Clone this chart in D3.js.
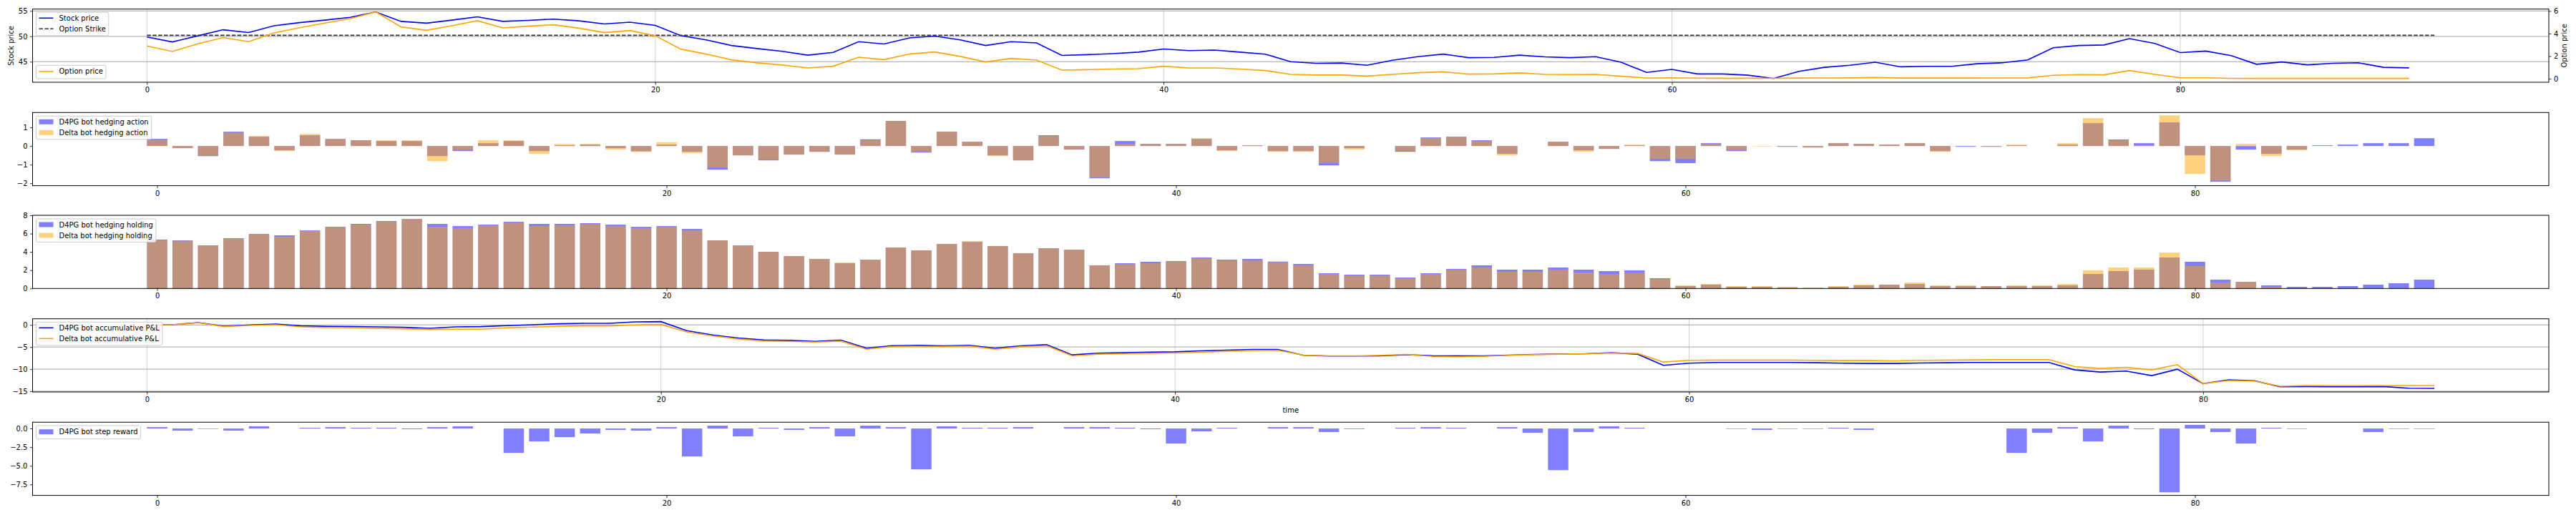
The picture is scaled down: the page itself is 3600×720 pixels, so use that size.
<!DOCTYPE html>
<html><head><meta charset="utf-8">
<script src="https://cdn.jsdelivr.net/npm/d3@7"></script>
<style>
html,body{margin:0;padding:0;background:#fff;}
svg{display:block;}
text{font-family:"DejaVu Sans",sans-serif;}
</style></head><body>
<svg id="chart" width="3600" height="720"></svg>
<script>
// ---------------- DATA ----------------
const timeSteps = d3.range(90);
const strikeTimes = [0, 90];
const strikeValues = [50.2, 50.2];

const stockPrice = [49.86, 48.9, 50.1, 51.3, 50.75, 52.1, 52.7, 53.2, 53.75, 54.8,
 52.95, 52.6, 53.2, 53.85, 52.95, 53.15, 53.4, 53.05, 52.45, 52.8,
 52.15, 50.15, 49.3, 48.2, 47.6, 47.05, 46.3, 46.85, 48.95, 48.5,
 49.7, 50.05, 49.3, 48.2, 48.95, 48.7, 46.25, 46.4, 46.6, 46.9,
 47.5, 47.2, 47.3, 46.9, 46.5, 45.0, 44.7, 44.75, 44.3, 45.3,
 46.0, 46.5, 45.8, 45.85, 46.3, 45.95, 45.8, 46.0, 44.9, 42.9,
 43.5, 42.6, 42.6, 42.35, 41.7, 43.1, 43.9, 44.3, 44.9, 44.0,
 44.1, 44.1, 44.6, 44.8, 45.35, 47.75, 48.2, 48.3, 49.55, 48.6,
 46.8, 47.1, 46.2, 44.5, 44.95, 44.4, 44.7, 44.8, 43.9, 43.8];

const optionPrice = [2.90, 2.41, 3.09, 3.64, 3.28, 4.06, 4.52, 4.93, 5.33, 5.92,
 4.59, 4.29, 4.69, 5.14, 4.50, 4.65, 4.78, 4.48, 4.08, 4.27,
 3.81, 2.62, 2.18, 1.67, 1.40, 1.21, 0.95, 1.10, 1.90, 1.69,
 2.18, 2.37, 1.97, 1.48, 1.80, 1.65, 0.76, 0.80, 0.85, 0.89,
 1.10, 0.95, 0.95, 0.85, 0.72, 0.38, 0.32, 0.32, 0.23, 0.38,
 0.53, 0.61, 0.40, 0.42, 0.51, 0.38, 0.36, 0.38, 0.21, 0.06,
 0.08, 0.04, 0.04, 0.04, 0.03, 0.05, 0.06, 0.07, 0.10, 0.05,
 0.05, 0.05, 0.05, 0.06, 0.07, 0.30, 0.36, 0.34, 0.72, 0.38,
 0.08, 0.08, 0.03, 0.02, 0.02, 0.02, 0.02, 0.02, 0.02, 0.02];

const d4pgAction = [0.385, -0.11, -0.54, 0.77, 0.50, -0.23, 0.58, 0.385, 0.31, 0.27,
 0.27, -0.54, -0.27, 0.155, 0.27, -0.27, 0.04, 0.077, -0.115, -0.28,
 0.077, -0.31, -1.27, -0.50, -0.77, -0.46, -0.31, -0.46, 0.36, 1.35,
 -0.35, 0.77, 0.23, -0.50, -0.77, 0.58, -0.19, -1.73, 0.27, 0.115,
 0.115, 0.385, -0.23, 0.04, -0.27, -0.27, -1.04, -0.115, 0, -0.31,
 0.46, 0.50, 0.31, -0.42, 0, 0.23, -0.23, -0.154, 0.04, -0.81,
 -0.92, 0.154, -0.27, 0, -0.04, -0.077, 0.154, 0.115, 0.077, 0.154,
 -0.27, -0.04, -0.04, 0.04, 0, 0.077, 1.23, 0.35, 0.154, 1.27,
 -0.50, -1.92, -0.19, -0.42, -0.19, 0.04, 0.077, 0.154, 0.154, 0.42];

const deltaAction = [0.32, -0.12, -0.50, 0.72, 0.54, -0.27, 0.65, 0.385, 0.31, 0.31,
 0.31, -0.81, -0.205, 0.31, 0.31, -0.42, 0.115, 0.115, -0.19, -0.32,
 0.205, -0.385, -1.15, -0.50, -0.73, -0.46, -0.31, -0.46, 0.32, 1.35,
 -0.31, 0.77, 0.23, -0.54, -0.77, 0.54, -0.19, -1.68, 0.115, 0.115,
 0.115, 0.42, -0.27, 0.04, -0.31, -0.31, -0.92, -0.19, 0, -0.27,
 0.42, 0.46, 0.27, -0.50, 0, 0.23, -0.31, -0.154, 0.077, -0.69,
 -0.69, 0.115, -0.23, -0.025, -0.04, -0.077, 0.154, 0.115, 0.077, 0.154,
 -0.31, 0, -0.04, 0.077, 0, 0.154, 1.50, 0.31, 0.04, 1.65,
 -1.50, -1.85, 0.115, -0.54, -0.23, 0, 0, 0, 0, 0];

const d4pgHolding = [5.34, 5.26, 4.71, 5.49, 5.96, 5.81, 6.35, 6.74, 7.06, 7.37,
 7.60, 7.06, 6.82, 6.98, 7.29, 7.06, 7.06, 7.14, 6.98, 6.74,
 6.82, 6.51, 5.26, 4.71, 4.01, 3.54, 3.23, 2.76, 3.15, 4.48,
 4.17, 4.87, 5.10, 4.64, 3.85, 4.40, 4.24, 2.53, 2.76, 2.92,
 2.99, 3.39, 3.15, 3.23, 2.94, 2.68, 1.67, 1.51, 1.51, 1.20,
 1.67, 2.14, 2.53, 2.06, 2.06, 2.29, 2.06, 1.90, 1.98, 1.12,
 0.26, 0.42, 0.18, 0.18, 0.10, 0.05, 0.18, 0.34, 0.42, 0.49,
 0.26, 0.26, 0.26, 0.26, 0.26, 0.34, 1.59, 1.90, 2.06, 3.39,
 2.92, 0.96, 0.73, 0.34, 0.18, 0.18, 0.26, 0.42, 0.57, 0.96];

const deltaHolding = [5.26, 5.21, 4.64, 5.42, 5.89, 5.68, 6.30, 6.67, 6.98, 7.29,
 7.60, 6.74, 6.59, 6.90, 7.21, 6.82, 6.90, 7.06, 6.82, 6.59,
 6.74, 6.35, 5.26, 4.71, 4.01, 3.54, 3.23, 2.84, 3.15, 4.48,
 4.17, 4.87, 5.18, 4.64, 3.85, 4.40, 4.24, 2.53, 2.68, 2.76,
 2.92, 3.31, 3.07, 3.07, 2.86, 2.53, 1.59, 1.43, 1.43, 1.12,
 1.59, 2.06, 2.29, 1.82, 1.82, 2.06, 1.74, 1.59, 1.74, 1.04,
 0.34, 0.49, 0.26, 0.26, 0.18, 0.10, 0.26, 0.42, 0.42, 0.65,
 0.34, 0.34, 0.26, 0.34, 0.34, 0.49, 1.98, 2.29, 2.29, 3.93,
 2.45, 0.65, 0.73, 0.18, 0, 0, 0, 0, 0, 0];

const d4pgPnl = [0.05, 0.05, 0.54, -0.27, 0, 0.22, -0.22, -0.32, -0.38, -0.43,
 -0.54, -0.75, -0.43, -0.38, -0.16, 0.05, 0.27, 0.38, 0.38, 0.70,
 0.75, -1.29, -2.26, -2.96, -3.39, -3.49, -3.71, -3.44, -5.27, -4.68,
 -4.62, -4.73, -4.62, -5.27, -4.73, -4.46, -6.77, -6.40, -6.29, -6.13,
 -6.08, -5.86, -5.70, -5.54, -5.54, -6.88, -7.04, -7.04, -6.99, -6.72,
 -6.94, -6.99, -6.99, -6.83, -6.67, -6.56, -6.51, -6.29, -6.61, -9.14,
 -8.66, -8.49, -8.49, -8.49, -8.49, -8.55, -8.66, -8.71, -8.71, -8.60,
 -8.55, -8.49, -8.49, -8.49, -8.49, -10.16, -10.65, -10.43, -11.45, -10.0,
 -13.28, -12.42, -12.63, -13.98, -13.92, -13.98, -13.98, -13.92, -14.30, -14.35];

const deltaPnl = [0.05, 0.05, 0.48, -0.38, -0.11, 0.05, -0.43, -0.59, -0.65, -0.81,
 -0.86, -1.02, -0.97, -0.97, -0.65, -0.48, -0.32, -0.22, -0.22, 0,
 0.11, -1.56, -2.47, -3.17, -3.66, -3.71, -3.87, -3.66, -5.48, -4.89,
 -4.84, -4.89, -4.78, -5.48, -4.95, -4.68, -6.99, -6.61, -6.51, -6.40,
 -6.34, -6.18, -5.97, -5.81, -5.75, -6.83, -6.99, -6.99, -6.88, -6.67,
 -7.10, -7.20, -7.10, -6.88, -6.72, -6.61, -6.51, -6.34, -6.45, -8.39,
 -8.01, -7.96, -7.96, -7.96, -7.96, -8.01, -8.06, -8.06, -8.12, -8.01,
 -7.96, -7.90, -7.85, -7.85, -7.85, -9.41, -9.84, -9.57, -10.16, -8.98,
 -13.28, -12.58, -12.69, -13.87, -13.71, -13.71, -13.71, -13.71, -13.71, -13.71];

const d4pgReward = [0.19, -0.29, -0.06, -0.29, 0.29, 0, 0.10, 0.19, 0.10, 0.10,
 -0.10, 0.19, 0.29, 0, -3.27, -1.73, -1.15, -0.67, -0.19, -0.29,
 0.19, -3.75, 0.38, -1.06, 0.10, -0.19, 0.19, -1.06, 0.38, 0.19,
 -5.48, 0.29, 0.10, 0.10, 0.19, 0, 0.19, 0.19, 0.10, -0.10,
 -2.02, -0.38, 0.10, 0, 0.19, 0.19, -0.48, -0.08, 0, 0.10,
 0.19, 0.10, 0, 0.19, -0.58, -5.58, -0.48, 0.29, 0.10, 0,
 0, 0, -0.06, -0.19, -0.06, -0.06, 0.10, -0.19, 0, 0,
 0, 0, 0, -3.27, -0.58, 0.19, -1.73, 0.38, -0.10, -8.56,
 0.48, -0.48, -2.02, 0.10, -0.06, 0, 0, -0.48, -0.06, -0.06];

const xTickValues = [0, 20, 40, 60, 80];
const xTickLabels = ["0", "20", "40", "60", "80"];
const stockTickValues = [45, 50, 55];
const stockTickLabels = ["45", "50", "55"];
const optionTickValues = [0, 2, 4, 6];
const optionTickLabels = ["0", "2", "4", "6"];
const actionTickValues = [1, 0, -1, -2];
const actionTickLabels = ["1", "0", "\u22121", "\u22122"];
const holdingTickValues = [0, 2, 4, 6, 8];
const holdingTickLabels = ["0", "2", "4", "6", "8"];
const pnlTickValues = [0, -5, -10, -15];
const pnlTickLabels = ["0", "\u22125", "\u221210", "\u221215"];
const rewardTickValues = [0, -2.5, -5, -7.5];
const rewardTickLabels = ["0.0", "\u22122.5", "\u22125.0", "\u22127.5"];

// ---------------- LAYOUT ----------------
const svg = d3.select("#chart");
const X0 = 45.5, X1 = 3562;
const tops = [12.7, 157.3, 301.0, 445.7, 590.3];
const PH = 102.3;
const BLUE = "#0000ff", ORANGE = "#ffa500";

const fmt = (vals, labs) => d => labs[vals.indexOf(d)];

function styleAxis(g) {
  g.select(".domain").remove();
  g.selectAll(".tick line").attr("stroke", "#000").attr("stroke-width", 0.8);
  g.selectAll(".tick text").attr("fill", "#000")
    .attr("font-family", "DejaVu Sans, sans-serif").attr("font-size", 10);
}
function bottomAxis(scale, y) {
  svg.append("g").attr("transform", `translate(0,${y})`)
    .call(d3.axisBottom(scale).tickValues(xTickValues).tickFormat(fmt(xTickValues, xTickLabels)).tickSize(3.5).tickPadding(3.5))
    .call(styleAxis);
}
function leftAxis(scale, vals, labs) {
  svg.append("g").attr("transform", `translate(${X0},0)`)
    .call(d3.axisLeft(scale).tickValues(vals).tickFormat(fmt(vals, labs)).tickSize(3.5).tickPadding(3.5))
    .call(styleAxis);
}
function frame(top) {
  svg.append("rect").attr("x", X0).attr("y", top).attr("width", X1 - X0).attr("height", PH)
    .attr("fill", "none").attr("stroke", "#000").attr("stroke-width", 1);
}
function grid(xs, ys, top, yvals) {
  const g = svg.append("g");
  g.selectAll(".vg").data(xTickValues).join("line")
    .attr("x1", d => xs(d)).attr("x2", d => xs(d)).attr("y1", top).attr("y2", top + PH)
    .attr("stroke", "#c8c8c8").attr("stroke-width", 0.8);
  g.selectAll(".hg").data(yvals).join("line")
    .attr("x1", X0).attr("x2", X1).attr("y1", d => ys(d)).attr("y2", d => ys(d))
    .attr("stroke", "#b8b8b8").attr("stroke-width", 1.3);
}
function legend(x, y, items) {
  const lg = svg.append("g").attr("transform", `translate(${x},${y})`);
  const box = lg.append("rect");
  const rowOff = items.length === 1 ? [8.7] : [8, 23];
  let maxW = 0;
  items.forEach((it, i) => {
    const cy = rowOff[i];
    if (it.type === "patch") {
      lg.append("rect").attr("x", 4).attr("y", cy - 3.5).attr("width", 20).attr("height", 7)
        .attr("fill", it.color).attr("fill-opacity", 0.5);
    } else {
      lg.append("line").attr("x1", 4).attr("x2", 24).attr("y1", cy).attr("y2", cy)
        .attr("stroke", it.color).attr("stroke-width", 1.6)
        .attr("stroke-dasharray", it.dash || null);
    }
    const t = lg.append("text").attr("x", 32).attr("y", cy).attr("dy", "0.35em")
      .attr("font-size", 10).attr("fill", "#000").text(it.label);
    maxW = Math.max(maxW, t.node().getComputedTextLength());
  });
  box.attr("x", 0).attr("y", 0).attr("width", 32 + maxW + 4)
    .attr("height", items.length === 1 ? 18.7 : 32.5).attr("rx", 2)
    .attr("fill", "#fff").attr("fill-opacity", 0.8).attr("stroke", "#cccccc").attr("stroke-width", 1);
}
function bars(xs, ys, values, color) {
  svg.append("g").selectAll("rect").data(values).join("rect")
    .attr("x", (d, i) => xs(timeSteps[i] - 0.4))
    .attr("width", (d, i) => xs(timeSteps[i] + 0.4) - xs(timeSteps[i] - 0.4))
    .attr("y", d => Math.min(ys(0), ys(d)))
    .attr("height", d => Math.abs(ys(d) - ys(0)))
    .attr("fill", color).attr("fill-opacity", 0.5);
}

// ---------------- PANEL 1 ----------------
{
  const top = tops[0];
  const xs = d3.scaleLinear().domain([-4.5, 94.5]).range([X0, X1]);
  const yS = d3.scaleLinear().domain([40.96, 55.37]).range([top + PH, top]);
  const yO = d3.scaleLinear().domain([-0.32, 6.17]).range([top + PH, top]);
  grid(xs, yS, top, stockTickValues);
  svg.append("path").datum(stockPrice)
    .attr("d", d3.line().x((d, i) => xs(timeSteps[i])).y(d => yS(d)))
    .attr("fill", "none").attr("stroke", BLUE).attr("stroke-width", 1.6);
  svg.append("path").datum(strikeValues)
    .attr("d", d3.line().x((d, i) => xs(strikeTimes[i])).y(d => yS(d)))
    .attr("fill", "none").attr("stroke", "#333").attr("stroke-width", 1.6).attr("stroke-dasharray", "5.5,2.4");
  svg.append("path").datum(optionPrice)
    .attr("d", d3.line().x((d, i) => xs(timeSteps[i])).y(d => yO(d)))
    .attr("fill", "none").attr("stroke", ORANGE).attr("stroke-width", 1.6);
  frame(top);
  bottomAxis(xs, top + PH);
  leftAxis(yS, stockTickValues, stockTickLabels);
  svg.append("g").attr("transform", `translate(${X1},0)`)
    .call(d3.axisRight(yO).tickValues(optionTickValues).tickFormat(fmt(optionTickValues, optionTickLabels)).tickSize(3.5).tickPadding(3.5))
    .call(styleAxis);
  svg.append("text").attr("transform", `translate(15,${top + PH / 2}) rotate(-90)`)
    .attr("text-anchor", "middle").attr("dy", "0.35em").attr("font-size", 10).text("Stock price");
  svg.append("text").attr("transform", `translate(3583,${top + PH / 2}) rotate(-90)`)
    .attr("text-anchor", "middle").attr("dy", "0.35em").attr("font-size", 10).text("Option price");
  legend(X0 + 5, top + 4.6, [
    { label: "Stock price", type: "line", color: BLUE },
    { label: "Option Strike", type: "line", color: "#333", dash: "5.5,2.4" }
  ]);
  legend(X0 + 5, top + PH - 5 - 18.7, [{ label: "Option price", type: "line", color: ORANGE }]);
}

// ---------------- BAR PANELS ----------------
const xb = d3.scaleLinear().domain([-4.89, 93.89]).range([X0, X1]);
{
  const top = tops[1];
  const ys = d3.scaleLinear().domain([-2.13, 1.80]).range([top + PH, top]);
  bars(xb, ys, d4pgAction, BLUE);
  bars(xb, ys, deltaAction, ORANGE);
  frame(top);
  bottomAxis(xb, top + PH);
  leftAxis(ys, actionTickValues, actionTickLabels);
  legend(X0 + 5, top + 5, [
    { label: "D4PG bot hedging action", type: "patch", color: BLUE },
    { label: "Delta bot hedging action", type: "patch", color: ORANGE }
  ]);
}
{
  const top = tops[2];
  const ys = d3.scaleLinear().domain([0, 8]).range([top + PH, top]);
  bars(xb, ys, d4pgHolding, BLUE);
  bars(xb, ys, deltaHolding, ORANGE);
  frame(top);
  bottomAxis(xb, top + PH);
  leftAxis(ys, holdingTickValues, holdingTickLabels);
  legend(X0 + 5, top + 5, [
    { label: "D4PG bot hedging holding", type: "patch", color: BLUE },
    { label: "Delta bot hedging holding", type: "patch", color: ORANGE }
  ]);
}

// ---------------- PANEL 4 ----------------
{
  const top = tops[3];
  const xs = d3.scaleLinear().domain([-4.45, 93.45]).range([X0, X1]);
  const ys = d3.scaleLinear().domain([-15.16, 1.39]).range([top + PH, top]);
  grid(xs, ys, top, pnlTickValues);
  svg.append("path").datum(d4pgPnl)
    .attr("d", d3.line().x((d, i) => xs(timeSteps[i])).y(d => ys(d)))
    .attr("fill", "none").attr("stroke", BLUE).attr("stroke-width", 1.6);
  svg.append("path").datum(deltaPnl)
    .attr("d", d3.line().x((d, i) => xs(timeSteps[i])).y(d => ys(d)))
    .attr("fill", "none").attr("stroke", ORANGE).attr("stroke-width", 1.6);
  frame(top);
  bottomAxis(xs, top + PH);
  leftAxis(ys, pnlTickValues, pnlTickLabels);
  svg.append("text").attr("x", (X0 + X1) / 2).attr("y", 577).attr("text-anchor", "middle")
    .attr("font-size", 10).text("time");
  legend(X0 + 5, top + 4.6, [
    { label: "D4PG bot accumulative P&L", type: "line", color: BLUE },
    { label: "Delta bot accumulative P&L", type: "line", color: ORANGE }
  ]);
}

// ---------------- PANEL 5 ----------------
{
  const top = tops[4];
  const ys = d3.scaleLinear().domain([-8.97, 0.84]).range([top + PH, top]);
  bars(xb, ys, d4pgReward, BLUE);
  frame(top);
  bottomAxis(xb, top + PH);
  leftAxis(ys, rewardTickValues, rewardTickLabels);
  legend(X0 + 5, top + 4.7, [{ label: "D4PG bot step reward", type: "patch", color: BLUE }]);
}
</script>
</body></html>
